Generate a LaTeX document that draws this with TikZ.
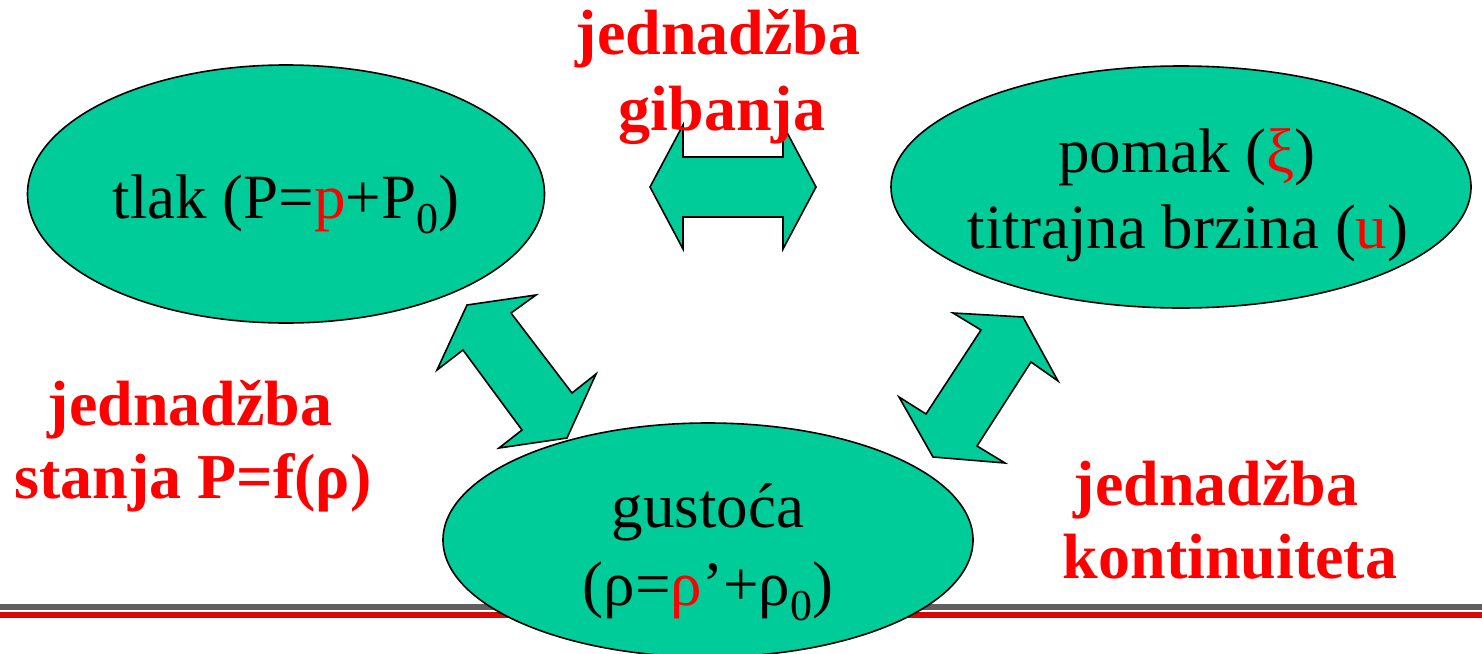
\documentclass[tikz,border=0pt]{standalone}
\usepackage{fontspec}
\setmainfont{Liberation Serif}
\usetikzlibrary{shapes.geometric}
\definecolor{shapegreen}{RGB}{0,204,153}
\definecolor{labelred}{RGB}{255,0,0}
\definecolor{linegray}{RGB}{95,95,95}
\definecolor{linered}{RGB}{214,8,8}
\newcommand\lowsub[1]{\raisebox{-15pt}{\fontsize{44}{44}\selectfont #1}}
\begin{document}
\begin{tikzpicture}[x=1pt,y=-1pt,
  blob/.style={ellipse, draw=black, line width=1.6pt, fill=shapegreen, inner sep=0pt},
  blockarrow/.style={draw=black, line width=1.6pt, fill=shapegreen, line join=miter},
  txt/.style={anchor=base, inner sep=0pt, font=\fontsize{63}{76}\selectfont},
  lbl/.style={anchor=base, inner sep=0pt, text=labelred, font=\bfseries\fontsize{64}{76}\selectfont}]
\useasboundingbox (0,0) rectangle (1482,653);
% footer lines
\fill[linegray] (0,604) rectangle (1482,610);
\fill[linered] (0,612) rectangle (1482,618);
% ellipses
\node[blob, minimum width=517pt, minimum height=258pt] (tlak) at (286,194) {};
\node[blob, minimum width=580pt, minimum height=242pt] (pomak) at (1181,187) {};
\node[blob, minimum width=530pt, minimum height=234pt] (gust) at (708,540) {};
% block arrows
\draw[blockarrow] (650,187) -- (683,125) -- (683,157) -- (783,157) -- (783,125) -- (816,187)
  -- (783,249) -- (783,217) -- (683,217) -- (683,249) -- cycle;
\draw[blockarrow] (536,295) -- (467,305) -- (437,370) -- (463,350) -- (522,430) -- (499,448)
  -- (567,438) -- (596,374) -- (572,393) -- (511,313) -- cycle;
\draw[blockarrow] (953,313) -- (1023,317) -- (1058,381) -- (1031,362) -- (977,446) -- (1005,463)
  -- (933,457) -- (899,397) -- (926,414) -- (981,330) -- cycle;
% ellipse texts
\node[txt] (tlaktext) at (286,218) {tlak (P=\textcolor{labelred}{p}+P\lowsub{0})};
\node[txt] (pomaktext) at (1187,172) {pomak (\textcolor{labelred}{ξ})};
\node[txt] (brzinatext) at (1188,248) {titrajna brzina (\textcolor{labelred}{u})};
\node[txt] (gusttext) at (708,527) {gustoća};
\node[txt] (rhotext) at (708,605) {(ρ=\textcolor{labelred}{ρ}’+ρ\lowsub{0})};
% red labels
\node[lbl] (gib1) at (718,54) {jednadžba};
\node[lbl] (gib2) at (722,130) {gibanja};
\node[lbl] (st1) at (190,425) {jednadžba};
\node[lbl] (st2) at (193,498) {stanja P=f(ρ)};
\node[lbl] (kon1) at (1216,505) {jednadžba};
\node[lbl] (kon2) at (1230,578) {kontinuiteta};
\end{tikzpicture}
\end{document}
